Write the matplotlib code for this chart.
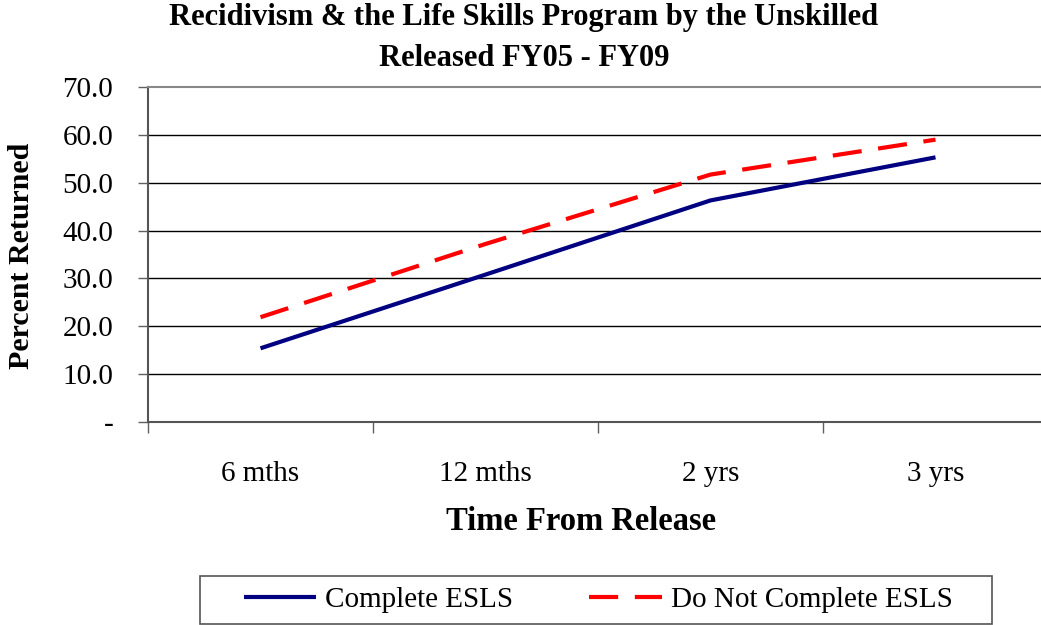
import matplotlib
matplotlib.use("Agg")
import matplotlib.pyplot as plt
from matplotlib.patches import Rectangle
import numpy as np

categories = ["6 mths", "12 mths", "2 yrs", "3 yrs"]
complete = [15.4, 30.8, 46.3, 55.3]
not_complete = [21.9, 37.2, 51.7, 59.0]
yticks = [0, 10, 20, 30, 40, 50, 60, 70]
ytick_labels = ["-", "10.0", "20.0", "30.0", "40.0", "50.0", "60.0", "70.0"]

plt.rcParams['font.family'] = ['Liberation Serif', 'DejaVu Serif']

W, H = 1041, 625
fig = plt.figure(figsize=(W / 100, H / 100), dpi=100)
ax = fig.add_axes([148 / W, 1 - 422 / H, (1048 - 148) / W, (422 - 87) / H])

x = np.arange(len(categories))
ax.plot(x, complete, color="#000080", lw=3.0, solid_capstyle="butt", label="Complete ESLS", zorder=3)
ax.plot(x, not_complete, color="#FF0000", lw=3.0, dashes=(7, 4), dash_capstyle="butt",
        label="Do Not Complete ESLS", zorder=3)

ax.set_xlim(-0.5, len(categories) - 0.5)
ax.set_ylim(0, 70)

ax.set_yticks(yticks)
ax.set_yticklabels(ytick_labels, fontsize=21)
for v in yticks[1:-1]:
    ax.axhline(v, color="black", lw=1.0, zorder=1)

ax.set_xticks(np.arange(-0.5, len(categories), 1.0))
ax.set_xticklabels([])
ax.set_xticks(x, minor=True)
ax.set_xticklabels(categories, minor=True, fontsize=21)
ax.tick_params(axis="x", which="minor", length=0, pad=28)
ax.tick_params(axis="x", which="major", length=8, color="#606060", width=1)
ax.tick_params(axis="y", length=7, color="#606060", width=1, pad=18)

for s in ["left", "bottom"]:
    ax.spines[s].set_color("#555555")
    ax.spines[s].set_linewidth(1.5)
ax.spines["top"].set_color("#888888")
ax.spines["top"].set_linewidth(1.5)
ax.spines["right"].set_visible(False)

ax.set_ylabel("Percent Returned", fontsize=21.5, fontweight="bold")
ax.yaxis.set_label_coords((22 - 148) / (1048 - 148), 0.5 - 1.5 / 335)
ax.set_xlabel("Time From Release", fontsize=23.5, fontweight="bold")
ax.xaxis.set_label_coords((581 - 148) / (1048 - 148), -(522 - 422) / 335)
ax.xaxis.label.set_va("center")
ax.yaxis.label.set_va("center")

fig.text(524 / W, 1 - 38 / H, "Recidivism & the Life Skills Program by the Unskilled\nReleased FY05 - FY09",
         ha="center", va="center", fontsize=22, fontweight="bold", linespacing=1.55)

leg = fig.legend(loc="center", bbox_to_anchor=(598 / W, 1 - 600 / H), ncol=2, fontsize=21,
                 frameon=False, handlelength=2.5, columnspacing=2.6, handletextpad=0.3)
fig.patches.append(Rectangle((200 / W, 1 - 624 / H), (992 - 200) / W, (624 - 576) / H,
                             transform=fig.transFigure, fill=False, edgecolor="#555555", lw=1.2))

fig.savefig("out.png", dpi=100)
